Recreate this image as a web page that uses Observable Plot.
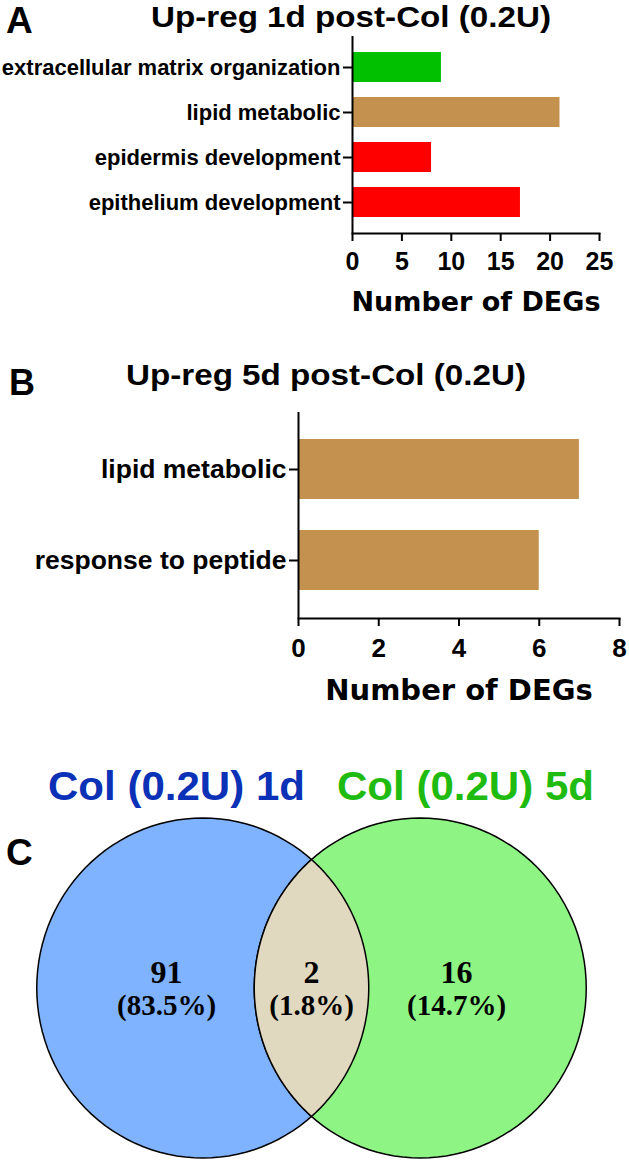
<!DOCTYPE html>
<html><head><meta charset="utf-8">
<script src="https://cdn.jsdelivr.net/npm/d3@7"></script>
<script src="https://cdn.jsdelivr.net/npm/@observablehq/plot@0.6"></script>
<style>
body{margin:0;background:#fff;}
#root{position:relative;width:629px;height:1161px;overflow:hidden;background:#fff;}
#root > svg{position:absolute;left:0;}
</style></head><body><div id="root"></div>
<script>
// ---------- Panel A data ----------
const titleA = "Up-reg 1d post-Col (0.2U)";
const termsA = ["extracellular matrix organization", "lipid metabolic", "epidermis development", "epithelium development"];
const countsA = [9, 21, 8, 17];
const colorsA = ["#00c000", "#c4924e", "#ff0000", "#ff0000"];
const ticksA = [0, 5, 10, 15, 20, 25];
// ---------- Panel B data ----------
const titleB = "Up-reg 5d post-Col (0.2U)";
const termsB = ["lipid metabolic", "response to peptide"];
const countsB = [7, 6];
const colorsB = ["#c4924e", "#c4924e"];
const ticksB = [0, 2, 4, 6, 8];
const xLabel = "Number of DEGs";
// ---------- Panel C data ----------
const vennSets = ["Col (0.2U) 1d", "Col (0.2U) 5d"];
const vennSetFills = ["#80b3ff", "#8ef585"];
const vennSetLabelColors = ["#0b31b6", "#1fbb10"];
const vennRegions = ["1d only", "both", "5d only"];
const vennCounts = [91, 2, 16];
const vennPercents = ["83.5%", "1.8%", "14.7%"];
const vennOverlapFill = "#e0d9bf";

const sans = '"Liberation Sans", Arial, sans-serif';
const root = document.getElementById("root");

function barPanel({terms, counts, colors, ticks, top, height, mt, mb, ml, mr, pi, po, yFont, xFont, xPad, labelDy, labelFont}) {
  const data = terms.map((t, i) => ({term: t, n: counts[i], color: colors[i]}));
  const p = Plot.plot({
    width: 629, height, marginTop: mt, marginBottom: mb, marginLeft: ml, marginRight: mr,
    style: {background: "transparent", overflow: "visible", color: "black"},
    x: {domain: [ticks[0], ticks[ticks.length - 1]]},
    y: {domain: terms, paddingInner: pi, paddingOuter: po},
    marks: [
      Plot.barX(data, {x: "n", y: "term", fill: "color"}),
      Plot.ruleX([0], {stroke: "black", strokeWidth: 2}),
      Plot.frame({anchor: "bottom", stroke: "black", strokeWidth: 2}),
      Plot.axisY({tickSize: 9, tickPadding: 3, strokeWidth: 2, fontSize: yFont, fontWeight: "bold", fontFamily: sans, label: null}),
      Plot.axisX({ticks, tickSize: 8, tickPadding: xPad, strokeWidth: 2, fontSize: xFont, fontWeight: "bold", fontFamily: sans, label: null}),
      Plot.text([xLabel], {text: d => d, frameAnchor: "bottom", dy: labelDy, lineAnchor: "middle", fontSize: labelFont, fontWeight: "bold", fontFamily: "DejaVu Sans"})
    ]
  });
  p.style.top = top + "px";
  root.appendChild(p);
}

barPanel({terms: termsA, counts: countsA, colors: colorsA, ticks: ticksA, top: 0, height: 320,
  mt: 36, mb: 87, ml: 352, mr: 30, pi: 0.34, po: 0.33, yFont: 22, xFont: 25, xPad: 11, labelDy: 69, labelFont: 27});
barPanel({terms: termsB, counts: countsB, colors: colorsB, ticks: ticksB, top: 330, height: 388,
  mt: 82, mb: 100, ml: 298, mr: 10, pi: 0.34, po: 0.3, yFont: 26.5, xFont: 26, xPad: 12, labelDy: 72, labelFont: 29});

// ---------- Panel C: Venn ----------
const R = 170;              // vertical radius (px)
const aspect = 166 / 170;   // horizontal / vertical radius
const halfGapPx = 108.75;   // half distance between set centres (px)
const unitPx = 145;         // px per x unit (region label spacing)
function ellipsePts(ctx, cx, rx, ry, t0, t1, first) {
  const n = 120;
  for (let k = 0; k <= n; k++) {
    const t = t0 + (t1 - t0) * k / n;
    const x = cx + rx * Math.cos(t), y = ry * Math.sin(t);
    if (k === 0 && first) ctx.moveTo(x, y); else ctx.lineTo(x, y);
  }
}
const ellipseSymbol = {draw(ctx, size) {
  const r = Math.sqrt(size / Math.PI);
  ellipsePts(ctx, 0, r * aspect, r, 0, 2 * Math.PI, true);
  ctx.closePath();
}};
const lensSymbol = {draw(ctx, size) {
  const r = Math.sqrt(size / Math.PI), rx = r * aspect;
  const t0 = Math.acos(halfGapPx / rx);
  ellipsePts(ctx, -halfGapPx, rx, r, -t0, t0, true);
  ellipsePts(ctx, halfGapPx, rx, r, Math.PI - t0, Math.PI + t0, false);
  ctx.closePath();
}};
const setOffset = halfGapPx / unitPx;
const pC = Plot.plot({
  width: 629, height: 347, marginTop: 0, marginBottom: 0, marginLeft: 0, marginRight: 0,
  style: {background: "transparent", overflow: "visible"},
  x: {domain: [-1, 1], range: [166, 456], axis: null},
  marks: [
    Plot.dot(vennSets, {x: (d, i) => (i === 0 ? -setOffset : setOffset), r: R, symbol: ellipseSymbol,
      fill: (d, i) => vennSetFills[i], stroke: "black", strokeWidth: 1.5}),
    Plot.dot([vennRegions[1]], {x: () => 0, r: R, symbol: lensSymbol, fill: vennOverlapFill, stroke: "black", strokeWidth: 1.5}),
    Plot.text(vennRegions, {x: (d, i) => i - 1, text: (d, i) => String(vennCounts[i]), dy: -15, lineAnchor: "middle",
      fontSize: 32, fontWeight: "bold", fontFamily: '"Liberation Serif", serif', fill: "black"}),
    Plot.text(vennRegions, {x: (d, i) => i - 1, text: (d, i) => `(${vennPercents[i]})`, dy: 18, lineAnchor: "middle",
      fontSize: 29, fontWeight: "bold", fontFamily: '"Liberation Serif", serif', fill: "black"})
  ]
});
pC.style.top = "814px";
root.appendChild(pC);

// ---------- Titles, panel letters, set labels ----------
const ns = "http://www.w3.org/2000/svg";
const ov = document.createElementNS(ns, "svg");
ov.setAttribute("width", 629); ov.setAttribute("height", 1161);
ov.style.top = "0px"; ov.style.pointerEvents = "none";
function addText(str, x, y, size, fill, len) {
  const t = document.createElementNS(ns, "text");
  t.setAttribute("x", x); t.setAttribute("y", y);
  t.setAttribute("font-size", size); t.setAttribute("font-family", sans);
  t.setAttribute("font-weight", "bold"); t.setAttribute("fill", fill);
  if (len) { t.setAttribute("textLength", len); t.setAttribute("lengthAdjust", "spacingAndGlyphs"); }
  t.textContent = str; ov.appendChild(t);
}
addText("A", 6, 33, 37, "black");
addText(titleA, 151, 27, 29, "black", 400);
addText("B", 9, 395, 36, "black");
addText(titleB, 126, 385, 29, "black", 400);
addText("C", 6, 865, 37, "black");
addText(vennSets[0], 48, 800, 40, vennSetLabelColors[0], 257);
addText(vennSets[1], 337, 800, 40, vennSetLabelColors[1], 257);
root.appendChild(ov);
</script></body></html>
